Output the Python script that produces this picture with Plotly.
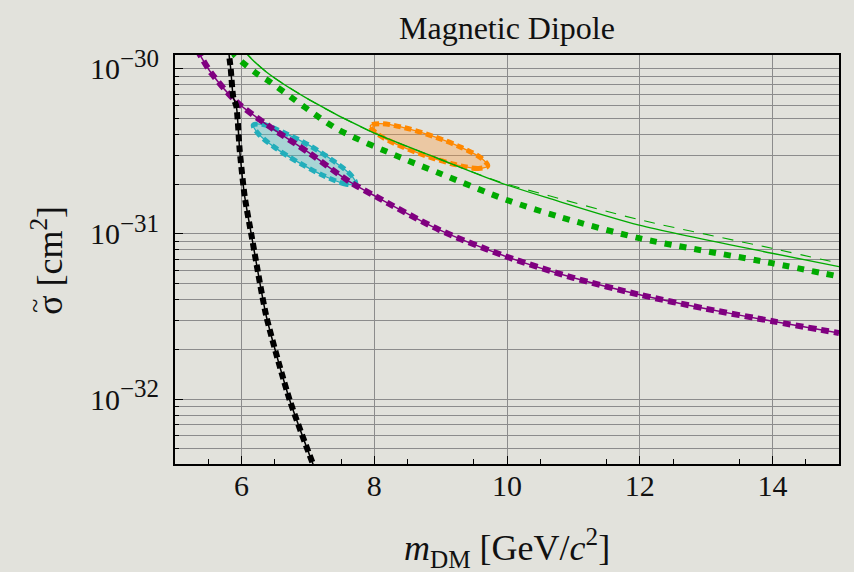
import plotly.graph_objects as go

# ---------------- data ----------------
black_m = [5.80, 5.839, 5.877, 5.925, 5.974, 6.050, 6.150, 6.376, 6.726, 7.102, 7.15]
black_s = [1.35e-30, 1.0e-30, 6.75e-31, 5.89e-31, 3.22e-31, 1.68e-31, 9.9e-32, 3.16e-32, 9.9e-33, 3.83e-33, 3.5e-33]

purple_m = [5.33, 5.362, 5.549, 5.925, 6.426, 7.027, 7.629, 8.030, 8.982, 9.985, 11.0, 12.0, 13.0, 14.0, 15.0]
purple_s = [1.3e-30, 1.24e-30, 9.38e-31, 6.31e-31, 4.46e-31, 3.08e-31, 2.07e-31, 1.68e-31, 1.057e-31,
            7.30e-32, 5.42e-32, 4.28e-32, 3.52e-32, 2.96e-32, 2.51e-32]

green_dot_m = [5.87, 5.899, 6.226, 6.426, 7.429, 8.380, 8.982, 9.985, 10.787, 11.99, 13.99, 15.0]
green_dot_s = [1.3e-30, 1.21e-30, 9.38e-31, 8.34e-31, 4.35e-31, 2.92e-31, 2.33e-31, 1.61e-31, 1.27e-31,
               9.42e-32, 6.65e-32, 5.52e-32]

green_solid_m = [6.04, 6.075, 6.376, 7.027, 7.929, 8.982, 9.884, 10.636, 11.99, 13.99, 15.0]
green_solid_s = [1.3e-30, 1.24e-30, 9.55e-31, 6.47e-31, 4.20e-31, 2.84e-31, 2.05e-31, 1.64e-31,
                 1.13e-31, 7.64e-32, 6.34e-32]

green_dash_m = [6.04, 6.075, 6.376, 7.027, 7.929, 8.982, 9.884, 10.636, 11.99, 13.99, 15.0]
green_dash_s = [1.3e-30, 1.24e-30, 9.55e-31, 6.47e-31, 4.20e-31, 2.84e-31, 2.07e-31, 1.70e-31,
                1.22e-31, 8.18e-32, 6.65e-32]

cyan_m = [7.72, 7.58, 7.27, 6.88, 6.50, 6.25, 6.18, 6.33, 6.63, 7.03, 7.40, 7.66, 7.72]
cyan_s = [2.01e-31, 2.00e-31, 2.22e-31, 2.68e-31, 3.34e-31, 4.06e-31, 4.56e-31, 4.59e-31, 4.12e-31,
          3.42e-31, 2.74e-31, 2.25e-31, 2.01e-31]

orange_m = [9.71, 9.57, 9.22, 8.78, 8.34, 8.04, 7.94, 8.09, 8.43, 8.88, 9.31, 9.62, 9.71]
orange_s = [2.58e-31, 2.49e-31, 2.63e-31, 2.97e-31, 3.48e-31, 4.05e-31, 4.51e-31, 4.65e-31, 4.42e-31,
            3.91e-31, 3.34e-31, 2.86e-31, 2.58e-31]

x_tickvals = [6, 8, 10, 12, 14]
x_ticktext = ["6", "8", "10", "12", "14"]
x_oddgrid = [5, 7, 9, 11, 13, 15]
x_minorvals = [5.5, 6.5, 7.5, 8.5, 9.5, 10.5, 11.5, 12.5, 13.5, 14.5]

y_tickvals = [1e-32, 1e-31, 1e-30]
y_ticktext = ["10<sup><span style='font-size:25px'>−32</span></sup>",
              "10<sup><span style='font-size:25px'>−31</span></sup>",
              "10<sup><span style='font-size:25px'>−30</span></sup>"]
y_minorvals = [5e-33, 6e-33, 7e-33, 8e-33, 9e-33,
               2e-32, 3e-32, 4e-32, 5e-32, 6e-32, 7e-32, 8e-32, 9e-32,
               2e-31, 3e-31, 4e-31, 5e-31, 6e-31, 7e-31, 8e-31, 9e-31]

# ---------------- styles ----------------
BG = "#e2e2dc"
GRID = "#8c8c8c"
PURPLE = "#800080"
GREEN = "#00aa00"
CYAN = "#22aebb"
ORANGE = "#ff8800"
FONT = "Liberation Serif"
TXT = "#111111"

fig = go.Figure()

# ellipses (drawn first so lines sit on top)
for mm, ss, col, fillc in [(cyan_m, cyan_s, CYAN, "rgba(60,190,200,0.35)"),
                           (orange_m, orange_s, ORANGE, "rgba(255,150,50,0.33)")]:
    fig.add_trace(go.Scatter(x=mm, y=ss, mode="lines", fill="toself", fillcolor=fillc,
                             line=dict(color=col, width=1.3, shape="spline", smoothing=1.0),
                             hoverinfo="skip", showlegend=False))
    fig.add_trace(go.Scatter(x=mm, y=ss, mode="lines",
                             line=dict(color=col, width=5, dash="7px,4px", shape="spline", smoothing=1.0),
                             hoverinfo="skip", showlegend=False))

# green curves
fig.add_trace(go.Scatter(x=green_solid_m, y=green_solid_s, mode="lines",
                         line=dict(color=GREEN, width=1.4, shape="spline", smoothing=0.8),
                         showlegend=False))
fig.add_trace(go.Scatter(x=green_dash_m, y=green_dash_s, mode="lines",
                         line=dict(color=GREEN, width=1.1, dash="11px,9px", shape="spline", smoothing=0.8),
                         showlegend=False))
fig.add_trace(go.Scatter(x=green_dot_m, y=green_dot_s, mode="lines",
                         line=dict(color=GREEN, width=6, dash="7px,8px", shape="spline", smoothing=0.8),
                         showlegend=False))

# purple curve
fig.add_trace(go.Scatter(x=purple_m, y=purple_s, mode="lines",
                         line=dict(color=PURPLE, width=1.5, shape="spline", smoothing=0.8),
                         showlegend=False))
fig.add_trace(go.Scatter(x=purple_m, y=purple_s, mode="lines",
                         line=dict(color=PURPLE, width=6, dash="8px,5px", shape="spline", smoothing=0.8),
                         showlegend=False))

# black curve
fig.add_trace(go.Scatter(x=black_m, y=black_s, mode="lines",
                         line=dict(color="black", width=1.5, shape="spline", smoothing=0.6),
                         showlegend=False))
fig.add_trace(go.Scatter(x=black_m, y=black_s, mode="lines",
                         line=dict(color="black", width=6, dash="7px,4px", shape="spline", smoothing=0.6),
                         showlegend=False))

# helper px -> paper
def px_x(p):
    return (p - 175) / 664.0

def px_y(p):
    return (464.3 - p) / 409.3

fig.update_layout(
    width=854, height=572,
    margin=dict(l=175, r=15, t=55, b=108),
    paper_bgcolor=BG, plot_bgcolor=BG,
    font=dict(family=FONT, size=30, color=TXT),
    showlegend=False,
    xaxis=dict(
        range=[5, 15], tickmode="array", tickvals=x_tickvals, ticktext=x_ticktext,
        ticks="inside", ticklen=8, tickcolor="black", tickwidth=1.2,
        showgrid=True, gridcolor=GRID, gridwidth=1.2, zeroline=False,
        showline=True, linecolor="black", linewidth=1.8, mirror=True,
        ticklabelstandoff=-6,
        tickfont=dict(family=FONT, size=30, color=TXT),
        minor=dict(tickmode="array", tickvals=x_minorvals, ticks="inside", ticklen=5,
                   tickcolor="black", tickwidth=1.2, showgrid=False),
    ),
    xaxis2=dict(
        range=[5, 15], overlaying="x", anchor="y", side="bottom",
        tickmode="array", tickvals=x_oddgrid, showticklabels=False, ticks="",
        showgrid=True, gridcolor=GRID, gridwidth=1.2, zeroline=False, showline=False,
    ),
    yaxis=dict(
        type="log", range=[-32.393, -29.917], tickmode="array",
        tickvals=y_tickvals, ticktext=y_ticktext,
        ticks="inside", ticklen=8, tickcolor="black", tickwidth=1.4,
        showgrid=True, gridcolor=GRID, gridwidth=1.2, zeroline=False,
        showline=True, linecolor="black", linewidth=1.8, mirror=True,
        ticklabelstandoff=8,
        tickfont=dict(family=FONT, size=30, color=TXT),
        minor=dict(tickmode="array", tickvals=y_minorvals, ticks="inside", ticklen=4,
                   tickcolor="black", tickwidth=1.0, showgrid=True, gridcolor=GRID, gridwidth=1.2),
    ),
    annotations=[
        dict(text="Magnetic Dipole", x=0.5, y=px_y(28),
             xref="paper", yref="paper", xanchor="center", yanchor="middle", showarrow=False,
             font=dict(family=FONT, size=32, color=TXT)),
        dict(text="<i>m</i><sub>DM</sub> [GeV/<i>c</i><sup>2</sup>]", x=0.5, y=px_y(548),
             xref="paper", yref="paper", xanchor="center", yanchor="middle", showarrow=False,
             font=dict(family=FONT, size=36, color=TXT)),
        dict(text="σ [cm<sup>2</sup>]", x=px_x(48), y=px_y(261), xref="paper", yref="paper",
             xanchor="center", yanchor="middle", textangle=-90, showarrow=False,
             font=dict(family=FONT, size=36, color=TXT)),
        dict(text="~", x=px_x(35), y=px_y(306), xref="paper", yref="paper",
             xanchor="center", yanchor="middle", textangle=-90, showarrow=False,
             font=dict(family=FONT, size=26, color=TXT)),
    ],
)

fig.write_html(
    "out.html",
    config={"displayModeBar": False},
    post_script="document.body.style.margin='0';document.body.style.background='" + BG + "';",
)
